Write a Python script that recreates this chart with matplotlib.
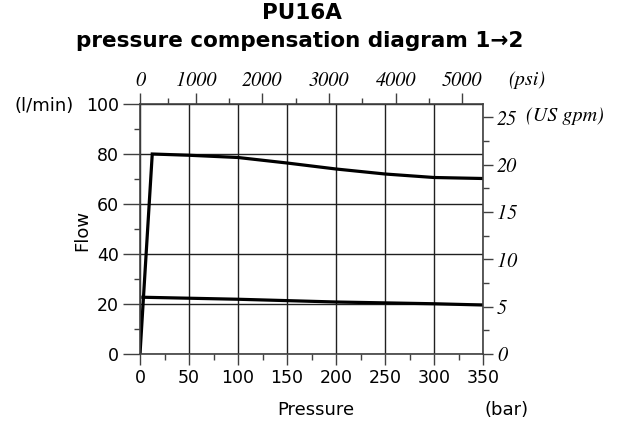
import numpy as np
import matplotlib.pyplot as plt
from matplotlib import font_manager
from matplotlib.ticker import MultipleLocator, FixedLocator

# Pressure compensation curves (bar vs l/min)
upper_p = [0, 12.5, 50, 100, 150, 200, 250, 300, 350]
upper_q = [0, 80, 79.5, 78.6, 76.4, 74.0, 72.0, 70.6, 70.2]
lower_p = [3, 100, 200, 300, 350]
lower_q = [22.7, 21.9, 20.8, 20.1, 19.6]

# top psi labels and where the original places them (in bar)
psi_labels = ['0', '1000', '2000', '3000', '4000', '5000']
psi_pos = [0, 57, 124.5, 193, 261, 329]
LPM_TO_GPM = 0.264172

grid_col = '#404040'

# STIX ships with matplotlib and has a real Times-like italic
it_font = font_manager.FontProperties(family='STIXGeneral', style='italic', size=14.5)

fig = plt.figure(figsize=(6.22, 4.25), dpi=100)
ax = fig.add_axes([140/622, 1 - 354/425, 343/622, 250/425])

ax.plot(upper_p, upper_q, color='black', lw=2.3, solid_joinstyle='miter')
ax.plot(lower_p, lower_q, color='black', lw=2.3)

ax.set_xlim(0, 350)
ax.set_ylim(0, 100)
ax.xaxis.set_major_locator(MultipleLocator(50))
ax.xaxis.set_minor_locator(MultipleLocator(25))
ax.yaxis.set_major_locator(MultipleLocator(20))
ax.yaxis.set_minor_locator(MultipleLocator(10))
ax.grid(True, which='major', color='#202020', lw=1.0)
ax.tick_params(which='major', direction='out', length=8, width=1, color=grid_col, labelsize=12.5, pad=3)
ax.tick_params(which='minor', direction='out', length=4, width=1, color=grid_col)
ax.tick_params(axis='y', which='major', length=12, pad=3)
for s in ax.spines.values():
    s.set_color(grid_col)
    s.set_linewidth(1.2)

fig.text(316/622, 1 - 410/425, 'Pressure', fontsize=13, ha='center', va='center')
fig.text(507/622, 1 - 410/425, '(bar)', fontsize=13, ha='center', va='center')
fig.text(82/622, 1 - 230/425, 'Flow', fontsize=13, ha='center', va='center', rotation=90)
fig.text(44/622, 1 - 106/425, '(l/min)', fontsize=13, ha='center', va='center')

# top psi axis
axt = ax.twiny()
axt.set_xlim(0, 350)
axt.xaxis.set_major_locator(FixedLocator(psi_pos))
axt.set_xticklabels(psi_labels, fontproperties=it_font)
minor_psi = [(a + b) / 2 for a, b in zip(psi_pos[:-1], psi_pos[1:])]
axt.xaxis.set_minor_locator(FixedLocator(minor_psi))
axt.tick_params(which='major', direction='out', length=8, width=1, color=grid_col, pad=2)
axt.tick_params(which='minor', direction='out', length=4, width=1, color=grid_col)
for s in axt.spines.values():
    s.set_visible(False)
fig.text(527/622, 1 - 80/425, '(psi)', ha='center', va='center', fontproperties=it_font)

# right gpm axis
axr = ax.twinx()
axr.set_ylim(0, 100 * LPM_TO_GPM)
axr.yaxis.set_major_locator(MultipleLocator(5))
axr.yaxis.set_minor_locator(MultipleLocator(2.5))
axr.tick_params(which='major', direction='out', length=7, width=1, color=grid_col, pad=3)
axr.tick_params(which='minor', direction='out', length=4, width=1, color=grid_col)
for lbl in axr.get_yticklabels():
    lbl.set_fontproperties(it_font)
for s in axr.spines.values():
    s.set_visible(False)
fig.text(526/622, 1 - 116/425, '(US gpm)', ha='left', va='center', fontproperties=it_font)

fig.text(0.486, 1 - 13/425, 'PU16A', fontsize=15.5, fontweight='bold', ha='center', va='center')
fig.text(0.482, 1 - 41/425, 'pressure compensation diagram 1\u21922', fontsize=15.5,
         fontweight='bold', ha='center', va='center')

fig.savefig('out.png', dpi=100)
